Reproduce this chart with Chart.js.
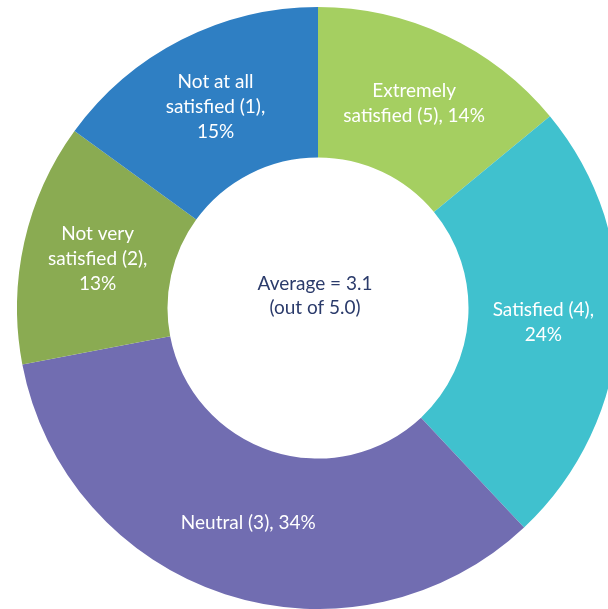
<!DOCTYPE html>
<html lang="en">

<head>
  <meta charset="UTF-8">
  <title>Satisfaction</title>
  <script src="https://cdn.jsdelivr.net/npm/chart.js"></script>
  <style>
    html, body {
      margin: 0;
      padding: 0;
      background: #fff;
      overflow: hidden;
      width: 608px;
      height: 609px;
    }

    .chart-container {
      position: absolute;
      left: 17px;
      top: 7px;
      width: 602px;
      height: 602px;
    }
  </style>
</head>

<body>
  <div class="chart-container">
    <canvas id="graficoDona"></canvas>
  </div>

  <script>
    // datos (en sentido horario desde arriba)
    const categorias = ['Extremely satisfied (5)', 'Satisfied (4)', 'Neutral (3)', 'Not very satisfied (2)', 'Not at all satisfied (1)'];
    const porcentajes = [14, 24, 34, 13, 15];
    const colores = ['#a5cf61', '#40c1ce', '#716db1', '#8aab52', '#2f7fc3'];
    // como se parte cada etiqueta en lineas
    const lineasEtiqueta = [
      ['Extremely', 'satisfied (5), 14%'],
      ['Satisfied (4),', '24%'],
      ['Neutral (3), 34%'],
      ['Not very', 'satisfied (2),', '13%'],
      ['Not at all', 'satisfied (1),', '15%']
    ];
    const textoCentro = ['Average = 3.1', '(out of 5.0)'];

    const fuente = '"Lato", "Open Sans", sans-serif';

    const etiquetasPlugin = {
      id: 'etiquetas',
      afterDatasetsDraw(chart) {
        const ctx = chart.ctx;
        const meta = chart.getDatasetMeta(0);
        ctx.save();
        ctx.textAlign = 'center';
        ctx.textBaseline = 'middle';
        ctx.font = '19px ' + fuente;
        ctx.fillStyle = '#ffffff';
        meta.data.forEach((arc, i) => {
          const pos = arc.tooltipPosition();
          const lineas = lineasEtiqueta[i];
          const alto = 25;
          const y0 = pos.y - (lineas.length - 1) * alto / 2;
          lineas.forEach((l, j) => ctx.fillText(l, pos.x, y0 + j * alto));
        });

        // texto del centro
        const c = meta.data[0];
        ctx.fillStyle = '#2b3b6b';
        ctx.font = '19px ' + fuente;
        ctx.fillText(textoCentro[0], c.x - 3, c.y - 24);
        ctx.fillText(textoCentro[1], c.x - 3, c.y);
        ctx.restore();
      }
    };

    new Chart(document.getElementById('graficoDona'), {
      type: 'doughnut',
      data: {
        labels: categorias,
        datasets: [{
          data: porcentajes,
          backgroundColor: colores,
          borderWidth: 0,
          hoverOffset: 0
        }]
      },
      options: {
        responsive: true,
        maintainAspectRatio: false,
        animation: false,
        cutout: '50%',
        events: [],
        layout: { padding: 0 },
        plugins: {
          legend: { display: false },
          tooltip: { enabled: false }
        }
      },
      plugins: [etiquetasPlugin]
    });
  </script>

</body>

</html>
